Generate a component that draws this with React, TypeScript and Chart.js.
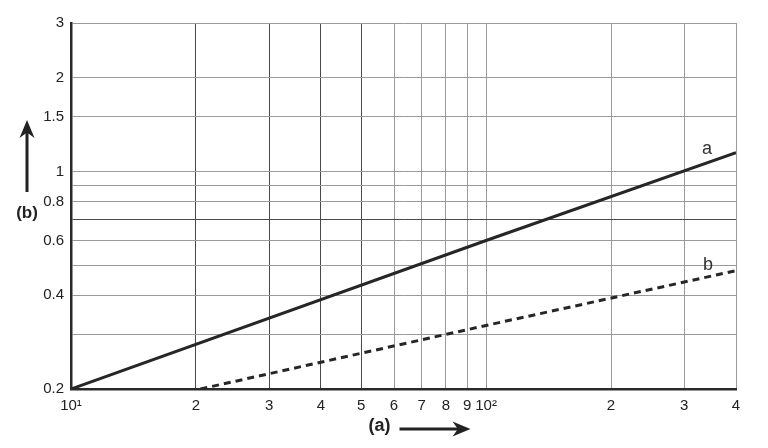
import { useEffect, useRef } from "react";
import { Chart, registerables } from "chart.js";

Chart.register(...registerables);

const xTicks = [10, 20, 30, 40, 50, 60, 70, 80, 90, 100, 200, 300, 400];
const xTickLabels = ["10¹", "2", "3", "4", "5", "6", "7", "8", "9", "10²", "2", "3", "4"];
const yTicks = [0.2, 0.3, 0.4, 0.5, 0.6, 0.7, 0.8, 0.9, 1, 1.5, 2, 3];
const yTickLabels = ["0.2", "", "0.4", "", "0.6", "", "0.8", "", "1", "1.5", "2", "3"];
const darkX = [20, 30, 40, 50];
const darkY = [0.7];

const seriesNames = ["a", "b"];
const seriesAX = [10, 100, 400];
const seriesAY = [0.2, 0.6, 1.15];
const seriesBX = [20.5, 100, 400];
const seriesBY = [0.2, 0.32, 0.48];

const xTitle = "(a)";
const yTitle = "(b)";

function drawArrow(ctx: CanvasRenderingContext2D, x1: number, y1: number, x2: number, y2: number) {
  const ang = Math.atan2(y2 - y1, x2 - x1);
  const head = 18;
  const hw = 7.5;
  const nx = Math.cos(ang + Math.PI / 2);
  const ny = Math.sin(ang + Math.PI / 2);
  ctx.save();
  ctx.strokeStyle = "#222";
  ctx.fillStyle = "#222";
  ctx.lineWidth = 3;
  ctx.beginPath();
  ctx.moveTo(x1, y1);
  ctx.lineTo(x2 - Math.cos(ang) * head * 0.6, y2 - Math.sin(ang) * head * 0.6);
  ctx.stroke();
  const bx = x2 - Math.cos(ang) * head;
  const by = y2 - Math.sin(ang) * head;
  ctx.beginPath();
  ctx.moveTo(x2, y2);
  ctx.lineTo(bx + nx * hw, by + ny * hw);
  ctx.lineTo(x2 - Math.cos(ang) * head * 0.7, y2 - Math.sin(ang) * head * 0.7);
  ctx.lineTo(bx - nx * hw, by - ny * hw);
  ctx.closePath();
  ctx.fill();
  ctx.restore();
}

const decorPlugin = {
  id: "decor",
  afterDraw(chart: any) {
    const ctx: CanvasRenderingContext2D = chart.ctx;
    const area = chart.chartArea;
    const xs = chart.scales.x;
    const ys = chart.scales.y;
    ctx.save();
    ctx.fillStyle = "#222";
    ctx.textAlign = "center";
    ctx.textBaseline = "middle";
    const midX = (area.left + area.right) / 2;
    ctx.font = "bold 18px 'Liberation Sans Narrow', 'Liberation Sans', sans-serif";
    ctx.fillText(xTitle, midX - 24, 426);
    drawArrow(ctx, midX - 4, 429, midX + 67, 429);
    ctx.font = "bold 17px 'Liberation Sans', sans-serif";
    ctx.fillText(yTitle, 27, 213);
    drawArrow(ctx, 27, 192, 27, 120);
    ctx.font = "18px 'Liberation Sans', sans-serif";
    ctx.fillStyle = "#333";
    const aEndX = xs.getPixelForValue(seriesAX[seriesAX.length - 1]);
    const aEndY = ys.getPixelForValue(seriesAY[seriesAY.length - 1]);
    ctx.fillText(seriesNames[0], aEndX - 29, aEndY - 4);
    const bEndX = xs.getPixelForValue(seriesBX[seriesBX.length - 1]);
    const bEndY = ys.getPixelForValue(seriesBY[seriesBY.length - 1]);
    ctx.fillText(seriesNames[1], bEndX - 28, bEndY - 6);
    ctx.restore();
  },
};

export default function App() {
  const ref = useRef<HTMLCanvasElement | null>(null);
  useEffect(() => {
    if (!ref.current) return;
    const chart = new Chart(ref.current, {
      type: "line",
      data: {
        datasets: [
          {
            label: seriesNames[0],
            data: seriesAX.map((x, i) => ({ x, y: seriesAY[i] })),
            borderColor: "#262626",
            borderWidth: 3,
            pointRadius: 0,
            fill: false,
          },
          {
            label: seriesNames[1],
            data: seriesBX.map((x, i) => ({ x, y: seriesBY[i] })),
            borderColor: "#262626",
            borderWidth: 3,
            borderDash: [7, 5],
            pointRadius: 0,
            fill: false,
          },
        ],
      },
      options: {
        animation: false,
        responsive: true,
        maintainAspectRatio: false,
        layout: { padding: { top: 23, right: 32, left: 0, bottom: 0 } },
        plugins: { legend: { display: false }, tooltip: { enabled: false } },
        scales: {
          x: {
            type: "logarithmic",
            min: 10,
            max: 400,
            afterBuildTicks: (s: any) => {
              s.ticks = xTicks.map((v) => ({ value: v }));
            },
            afterFit: (s: any) => {
              s.height = 59;
            },
            ticks: {
              autoSkip: false,
              maxRotation: 0,
              padding: 8,
              color: "#222",
              font: { family: "'Liberation Sans Narrow', 'Liberation Sans', sans-serif", size: 15 },
              callback: (_v: any, i: number) => xTickLabels[i],
            },
            grid: {
              drawTicks: false,
              color: (c: any) => (darkX.includes(c.tick?.value) ? "#4a4a4a" : "#9a9a9a"),
              lineWidth: 1,
            },
            border: { color: "#2a2a2a", width: 2.5 },
          },
          y: {
            type: "logarithmic",
            min: 0.2,
            max: 3,
            afterBuildTicks: (s: any) => {
              s.ticks = yTicks.map((v) => ({ value: v }));
            },
            afterFit: (s: any) => {
              s.width = 71;
            },
            ticks: {
              autoSkip: false,
              padding: 7,
              color: "#222",
              font: { family: "'Liberation Sans', sans-serif", size: 15 },
              callback: (_v: any, i: number) => yTickLabels[i],
            },
            grid: {
              drawTicks: false,
              color: (c: any) => (darkY.includes(c.tick?.value) ? "#4a4a4a" : "#9a9a9a"),
              lineWidth: 1,
            },
            border: { color: "#2a2a2a", width: 2.5 },
          },
        },
      },
      plugins: [decorPlugin],
    });
    return () => chart.destroy();
  }, []);
  return (
    <div style={{ position: "absolute", left: 0, top: 0, width: 768, height: 448, background: "#fff" }}>
      <canvas ref={ref} />
    </div>
  );
}
